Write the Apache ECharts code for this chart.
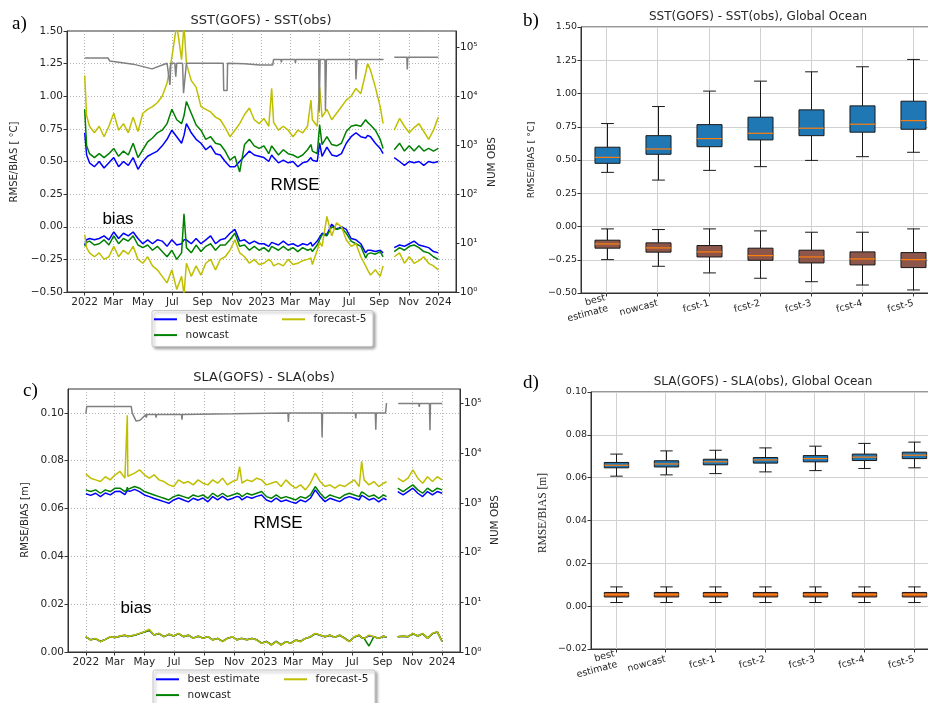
<!DOCTYPE html>
<html>
<head>
<meta charset="utf-8">
<script src="https://cdn.jsdelivr.net/npm/echarts@6/dist/echarts.min.js"></script>
<style>
  html, body { margin: 0; padding: 0; background: #fff; }
  #chart { width: 928px; height: 703px; }
</style>
</head>
<body>
<div id="chart"></div>
<script>
// ---- time axis ticks (days since 2022-01-01)
const tickDays = [0, 59, 120, 181, 243, 304, 365, 424, 485, 546, 608, 669, 730];
const tickLabels = ['2022', 'Mar', 'May', 'Jul', 'Sep', 'Nov', '2023', 'Mar', 'May', 'Jul', 'Sep', 'Nov', '2024'];

// ---- panel a: SST time series
const sstDays = [0,4,10,20,30,40,50,60,70,80, 90,100,110,120,130,140,150,160,170,180,
  190,200,205,210,220,230,240,250,260,270, 280,290,300,310,320,330,340,350,360,370,
  380,386,390,400,410,420,430,440,450,460, 467,470,480,485,490,500,510,520,530,540,
  550,560,570,580,584,590,600,610,616,628, 639,650,660,670,680,690,700,710,720,730];
const sstBestRmse = [0.72,0.55,0.49,0.46,0.50,0.45,0.49,0.53,0.46,0.50, 0.47,0.53,0.44,0.50,0.54,0.56,0.58,0.62,0.67,0.74,
  0.69,0.64,0.70,0.79,0.72,0.67,0.64,0.59,0.62,0.56, 0.55,0.50,0.46,0.46,0.50,0.54,0.58,0.55,0.54,0.53,
  0.50,0.55,0.53,0.49,0.51,0.49,0.50,0.46,0.49,0.50, 0.53,0.51,0.50,0.64,0.54,0.61,0.55,0.54,0.56,0.64,
  0.69,0.72,0.69,0.68,0.70,0.69,0.64,0.60,0.56,null, 0.53,0.50,0.47,0.50,0.49,0.50,0.47,0.50,0.49,0.50];
const sstNowRmse = [0.90,0.62,0.56,0.53,0.56,0.53,0.56,0.60,0.54,0.58, 0.55,0.64,0.53,0.59,0.65,0.68,0.72,0.74,0.79,0.90,
  0.82,0.79,0.85,0.96,0.87,0.78,0.74,0.67,0.69,0.64, 0.63,0.58,0.51,0.54,0.42,0.63,0.67,0.62,0.60,0.62,
  0.56,0.62,0.60,0.55,0.59,0.56,0.55,0.53,0.55,0.59, 0.63,0.58,0.56,0.78,0.63,0.69,0.63,0.62,0.64,0.73,
  0.77,0.78,0.77,0.82,0.80,0.78,0.74,0.67,0.60,null, 0.59,0.64,0.58,0.62,0.58,0.62,0.58,0.60,0.58,0.60];
const sstFc5Rmse = [1.16,0.85,0.77,0.72,0.77,0.69,0.77,0.87,0.74,0.79, 0.72,0.84,0.73,0.87,0.90,0.92,0.95,1.00,1.10,1.30,
  1.55,1.28,1.55,1.25,1.12,1.07,0.92,0.90,0.88,0.84, 0.82,0.76,0.69,0.74,0.79,0.86,0.91,0.82,0.79,0.83,
  0.77,1.06,0.80,0.74,0.77,0.74,0.69,0.74,0.72,0.77, 0.97,0.82,0.77,1.07,0.84,0.90,0.82,0.87,0.92,0.97,
  1.00,1.06,1.02,1.18,1.25,1.20,1.07,0.92,0.79,null, 0.74,0.83,0.77,0.72,0.76,0.79,0.73,0.67,0.74,0.84];
const sstBestBias = [-0.14,-0.10,-0.09,-0.10,-0.09,-0.07,-0.10,-0.04,-0.09,-0.05, -0.07,-0.04,-0.09,-0.13,-0.10,-0.13,-0.10,-0.11,-0.15,-0.10,
  -0.14,-0.13,-0.10,-0.10,-0.13,-0.09,-0.13,-0.10,-0.07,-0.13, -0.10,-0.09,-0.05,-0.02,-0.11,-0.10,-0.13,-0.11,-0.13,-0.13,
  -0.15,-0.12,-0.13,-0.14,-0.11,-0.14,-0.13,-0.15,-0.13,-0.14, -0.12,-0.15,-0.11,-0.08,-0.05,-0.06,0.02,-0.02,0.00,-0.02,
  -0.09,-0.10,-0.13,-0.20,-0.18,-0.18,-0.19,-0.18,-0.20,null, -0.16,-0.14,-0.15,-0.13,-0.11,-0.14,-0.15,-0.16,-0.19,-0.20];
const sstNowBias = [-0.15,-0.12,-0.11,-0.14,-0.13,-0.10,-0.14,-0.07,-0.13,-0.09, -0.11,-0.07,-0.14,-0.16,-0.14,-0.18,-0.15,-0.19,-0.23,-0.18,
  -0.25,-0.20,0.10,-0.16,-0.20,-0.14,-0.19,-0.15,-0.13,-0.18, -0.14,-0.14,-0.10,-0.05,-0.15,-0.14,-0.18,-0.15,-0.18,-0.16,
  -0.19,-0.15,-0.16,-0.18,-0.15,-0.18,-0.16,-0.19,-0.16,-0.18, -0.17,-0.19,-0.14,-0.10,-0.06,-0.07,0.00,-0.02,-0.01,-0.05,
  -0.11,-0.13,-0.15,-0.24,-0.21,-0.20,-0.21,-0.19,-0.23,null, -0.19,-0.16,-0.18,-0.15,-0.14,-0.16,-0.19,-0.20,-0.23,-0.25];
const sstFc5Bias = [-0.06,-0.16,-0.20,-0.23,-0.20,-0.25,-0.23,-0.15,-0.23,-0.18, -0.21,-0.15,-0.25,-0.28,-0.23,-0.30,-0.33,-0.38,-0.43,-0.33,
  -0.48,-0.38,-0.52,-0.28,-0.38,-0.30,-0.37,-0.28,-0.25,-0.33, -0.25,-0.23,-0.18,-0.10,-0.20,-0.23,-0.28,-0.25,-0.29,-0.28,
  -0.25,-0.27,-0.30,-0.28,-0.30,-0.25,-0.29,-0.28,-0.26,-0.25, -0.24,-0.29,-0.18,-0.12,-0.15,0.08,-0.07,0.03,0.00,-0.10,
  -0.15,-0.13,-0.23,-0.30,-0.33,-0.37,-0.33,-0.38,-0.30,null, -0.23,-0.20,-0.28,-0.23,-0.28,-0.26,-0.23,-0.28,-0.30,-0.33];
const sstObsDays = [0,48,52,100,139,170,174,176,178,180, 186,188,190,192,202,204,208,210,250,286,
  287,294,295,330,362,388,390,405,406,407, 434,435,436,483,484,486,496,497,499,520,
  559,560,562,600,617,628,639,665,666,667, 700,730];
const sstObsVals = [60000,60000,52000,45000,36000,47000,47000,17000,47000,47000,
  47000,25000,47000,47000,47000,11500,11500,47000,47000,47000,
  13000,13000,47000,46000,43000,43000,56000,56000,49000,56000,
  56000,48000,56000,56000,4800,56000,56000,5100,56000,56000,
  56000,22000,56000,56000,56000,null,62000,62000,35000,62000, 62000,62000];

// ---- panel c: SLA time series
const slaDays = [0,10,20,30,40,50,60,70,80,84, 85,86,90,100,110,120,130,140,150,160,
  170,180,190,200,210,220,230,240,250,260, 270,280,290,300,310,315,320,330,340,350,
  360,370,380,390,400,410,420,430,440,450, 460,470,480,490,500,510,520,530,540,550,
  560,565,570,580,590,600,610,616,628,639, 650,660,670,680,690,700,710,720,730];
const slaBestRmse = [0.0662,0.0655,0.0664,0.0650,0.0665,0.0657,0.0671,0.0672,0.0658,0.0666,
  0.0675,0.0667,0.0672,0.0680,0.0671,0.0657,0.0650,0.0642,0.0636,0.0629,
  0.0622,0.0636,0.0644,0.0636,0.0628,0.0643,0.0635,0.0644,0.0628,0.0650,
  0.0636,0.0651,0.0636,0.0642,0.0651,0.0647,0.0636,0.0650,0.0643,0.0651,
  0.0657,0.0636,0.0628,0.0644,0.0629,0.0636,0.0628,0.0622,0.0636,0.0628,
  0.0643,0.0678,0.0650,0.0629,0.0643,0.0636,0.0629,0.0643,0.0650,0.0643,
  0.0636,0.0655,0.0650,0.0636,0.0643,0.0628,0.0643,0.0636,null,0.0671,
  0.0657,0.0671,0.0685,0.0664,0.0650,0.0671,0.0657,0.0671,0.0664];
const slaNowRmse = [0.0678,0.0671,0.0678,0.0664,0.0678,0.0671,0.0685,0.0685,0.0671,0.0680,
  0.0690,0.0680,0.0685,0.0692,0.0685,0.0671,0.0664,0.0657,0.0650,0.0643,
  0.0636,0.0650,0.0657,0.0650,0.0643,0.0657,0.0650,0.0657,0.0643,0.0664,
  0.0650,0.0664,0.0650,0.0657,0.0664,0.0660,0.0650,0.0664,0.0657,0.0664,
  0.0671,0.0650,0.0643,0.0657,0.0643,0.0650,0.0643,0.0636,0.0650,0.0643,
  0.0657,0.0692,0.0664,0.0643,0.0657,0.0650,0.0643,0.0657,0.0664,0.0657,
  0.0650,0.0670,0.0664,0.0650,0.0657,0.0643,0.0657,0.0650,null,0.0685,
  0.0671,0.0685,0.0699,0.0678,0.0664,0.0685,0.0671,0.0685,0.0678];
const slaFc5Rmse = [0.0745,0.0727,0.0720,0.0713,0.0733,0.0720,0.0741,0.0755,0.0727,0.0730,
  0.0990,0.0735,0.0733,0.0748,0.0762,0.0741,0.0727,0.0741,0.0720,0.0713,
  0.0699,0.0692,0.0720,0.0706,0.0713,0.0699,0.0720,0.0706,0.0699,0.0720,
  0.0706,0.0727,0.0699,0.0713,0.0720,0.0775,0.0706,0.0720,0.0713,0.0727,
  0.0720,0.0699,0.0706,0.0713,0.0692,0.0720,0.0699,0.0685,0.0699,0.0678,
  0.0706,0.0748,0.0713,0.0692,0.0699,0.0685,0.0699,0.0692,0.0706,0.0720,
  0.0692,0.0797,0.0720,0.0699,0.0713,0.0692,0.0706,0.0712,null,0.0727,
  0.0713,0.0727,0.0762,0.0727,0.0706,0.0733,0.0713,0.0733,0.0720];
const slaBestBias = [0.0063,0.0051,0.0056,0.0044,0.0053,0.0063,0.0061,0.0066,0.0070,0.0066,
  0.0067,0.0065,0.0064,0.0070,0.0077,0.0084,0.0091,0.0071,0.0077,0.0064,
  0.0074,0.0067,0.0077,0.0064,0.0070,0.0058,0.0066,0.0058,0.0064,0.0051,
  0.0057,0.0044,0.0057,0.0063,0.0051,0.0055,0.0057,0.0051,0.0057,0.0051,
  0.0037,0.0044,0.0030,0.0044,0.0030,0.0043,0.0037,0.0050,0.0044,0.0057,
  0.0063,0.0077,0.0070,0.0064,0.0070,0.0061,0.0070,0.0058,0.0044,0.0063,
  0.0070,0.0060,0.0057,0.0068,0.0064,0.0057,0.0066,0.0062,null,0.0064,
  0.0066,0.0064,0.0077,0.0067,0.0077,0.0058,0.0077,0.0084,0.0044];
const slaNowBias = [0.0063,0.0051,0.0056,0.0044,0.0053,0.0063,0.0061,0.0066,0.0070,0.0066,
  0.0067,0.0065,0.0064,0.0070,0.0077,0.0084,0.0091,0.0071,0.0077,0.0064,
  0.0074,0.0067,0.0077,0.0064,0.0070,0.0058,0.0066,0.0058,0.0064,0.0051,
  0.0057,0.0044,0.0057,0.0063,0.0051,0.0055,0.0057,0.0051,0.0057,0.0051,
  0.0037,0.0044,0.0030,0.0044,0.0030,0.0043,0.0037,0.0050,0.0044,0.0057,
  0.0063,0.0077,0.0070,0.0064,0.0070,0.0061,0.0070,0.0058,0.0044,0.0063,
  0.0070,0.0060,0.0057,0.0025,0.0064,0.0057,0.0066,0.0062,null,0.0064,
  0.0066,0.0064,0.0077,0.0067,0.0077,0.0058,0.0077,0.0084,0.0044];
const slaFc5Bias = [0.0064,0.0050,0.0057,0.0043,0.0053,0.0064,0.0061,0.0067,0.0071,0.0066,
  0.0068,0.0065,0.0064,0.0071,0.0078,0.0085,0.0095,0.0071,0.0078,0.0064,
  0.0075,0.0067,0.0078,0.0064,0.0071,0.0057,0.0067,0.0057,0.0064,0.0050,
  0.0057,0.0043,0.0057,0.0064,0.0050,0.0055,0.0057,0.0050,0.0057,0.0050,
  0.0036,0.0043,0.0029,0.0043,0.0029,0.0043,0.0036,0.0050,0.0043,0.0057,
  0.0064,0.0078,0.0071,0.0064,0.0071,0.0061,0.0071,0.0057,0.0043,0.0064,
  0.0071,0.0060,0.0057,0.0071,0.0064,0.0057,0.0067,0.0062,null,0.0064,
  0.0067,0.0064,0.0078,0.0067,0.0078,0.0057,0.0078,0.0085,0.0043];
const slaObsDays = [0,2,75,76,77,93,95,103,107,111, 123,124,125,143,144,145,196,197,198,300,
  414,415,416,438,483,484,485,552,553,554, 593,594,595,614,616,628,640,682,683,684, 704,705,706,730];
const slaObsVals = [62000,87000,87000,80000,87000,87000,64500,44000,42000,46000,
  60000,52000,60000,60000,52000,60000,60000,47000,60000,62000,
  64500,42500,64500,64500,64500,21000,64500,64500,50000,64500,
  64500,29500,64500,64500,102000,null,100000,100000,85000,100000,
  100000,29000,100000,100000];

// ---- panels b, d: box statistics [low whisker, q1, median, q3, high whisker]
const boxCats = ['best\nestimate', 'nowcast', 'fcst-1', 'fcst-2', 'fcst-3', 'fcst-4', 'fcst-5'];
const sstRmseBox = [
  [0.407, 0.475, 0.520, 0.596, 0.774],
  [0.349, 0.543, 0.583, 0.683, 0.902],
  [0.422, 0.600, 0.661, 0.766, 1.018],
  [0.450, 0.651, 0.701, 0.822, 1.093],
  [0.497, 0.683, 0.739, 0.877, 1.163],
  [0.525, 0.709, 0.769, 0.907, 1.201],
  [0.558, 0.731, 0.796, 0.942, 1.256]];
const sstBiasBox = [
  [-0.249, -0.163, -0.131, -0.103, -0.018],
  [-0.299, -0.193, -0.161, -0.123, -0.023],
  [-0.349, -0.229, -0.191, -0.143, -0.018],
  [-0.389, -0.254, -0.219, -0.163, -0.033],
  [-0.415, -0.274, -0.229, -0.178, -0.043],
  [-0.440, -0.289, -0.244, -0.191, -0.043],
  [-0.477, -0.309, -0.249, -0.196, -0.018]];
const slaRmseBox = [
  [0.0607, 0.0646, 0.0658, 0.0671, 0.0710],
  [0.0613, 0.0650, 0.0664, 0.0679, 0.0725],
  [0.0619, 0.0660, 0.0674, 0.0686, 0.0728],
  [0.0627, 0.0668, 0.0683, 0.0694, 0.0739],
  [0.0633, 0.0674, 0.0689, 0.0703, 0.0747],
  [0.0643, 0.0680, 0.0696, 0.0710, 0.0760],
  [0.0646, 0.0689, 0.0705, 0.0719, 0.0766]];
const slaBiasBox = [
  [0.0017, 0.0043, 0.0054, 0.0064, 0.0090],
  [0.0017, 0.0043, 0.0054, 0.0064, 0.0090],
  [0.0017, 0.0043, 0.0054, 0.0064, 0.0090],
  [0.0017, 0.0043, 0.0054, 0.0064, 0.0090],
  [0.0017, 0.0043, 0.0054, 0.0064, 0.0090],
  [0.0017, 0.0043, 0.0054, 0.0064, 0.0090],
  [0.0017, 0.0043, 0.0054, 0.0064, 0.0090]];
const slaTicks = [0, 0.02, 0.04, 0.06, 0.08, 0.10];

const FONT = 'DejaVu Sans';
const INK = '#262626';
const SPINE = '#333333';
const SUP = ['\u2070', '\u00b9', '\u00b2', '\u00b3', '\u2074', '\u2075'];

function fmt2(v) {
  if (Math.abs(v) < 1e-9) v = 0;
  return v.toFixed(2).replace('-', '\u2212');
}
function zip(xs, ys) { return xs.map((x, i) => [x, ys[i]]); }

function timeAxis(gridIndex) {
  return {
    type: 'value', gridIndex: gridIndex, min: -36.5, max: 766.5,
    axisLine: { show: true, onZero: false, lineStyle: { color: SPINE, width: 1 } },
    axisTick: { show: true, length: 3.5, customValues: tickDays, lineStyle: { color: SPINE } },
    axisLabel: {
      customValues: tickDays, margin: 5, color: INK, fontFamily: FONT, fontSize: 10.5,
      formatter: function (v) { const k = tickDays.indexOf(Math.round(v)); return k < 0 ? '' : tickLabels[k]; }
    },
    splitLine: { show: true, lineStyle: { color: '#a0a0a0', width: 0.8, type: [1, 2] } }
  };
}
function catAxis(gridIndex) {
  return {
    type: 'category', gridIndex: gridIndex, data: boxCats,
    axisLine: { show: true, onZero: false, lineStyle: { color: SPINE } },
    axisTick: { show: true, alignWithLabel: true, length: 3.5, lineStyle: { color: SPINE } },
    axisLabel: { interval: 0, rotate: 15, margin: 10, color: INK, fontFamily: FONT, fontSize: 9.5, lineHeight: 11 },
    splitLine: { show: true, alignWithLabel: true, interval: 0, lineStyle: { color: '#d0d0d0', width: 1 } }
  };
}
function leftAxis(gridIndex, min, max, interval, size, dotted, labels) {
  const ax = {
    type: 'value', gridIndex: gridIndex, min: min, max: max, interval: interval,
    axisLine: { show: true, onZero: false, lineStyle: { color: SPINE } },
    axisTick: { show: true, length: 3.5, lineStyle: { color: SPINE } },
    axisLabel: { margin: 4, color: INK, fontFamily: FONT, fontSize: size, formatter: fmt2 },
    splitLine: { show: true, lineStyle: dotted ? { color: '#a0a0a0', width: 0.8, type: [1, 2] } : { color: '#d0d0d0', width: 1 } }
  };
  if (labels) {
    ax.axisTick.customValues = labels;
    ax.axisLabel.customValues = labels;
  }
  return ax;
}
function logAxis(gridIndex, maxExp) {
  return {
    type: 'log', logBase: 10, gridIndex: gridIndex, position: 'right',
    min: 1, max: Math.pow(10, maxExp), interval: 1,
    axisLine: { show: true, onZero: false, lineStyle: { color: SPINE } },
    axisTick: { show: true, length: 3.5, lineStyle: { color: SPINE } },
    axisLabel: {
      margin: 4, color: INK, fontFamily: FONT, fontSize: 10.5, showMaxLabel: false,
      formatter: function (v) { const e = Math.round(Math.log10(v)); return e >= 0 && e <= 5 ? '10' + SUP[e] : ''; }
    },
    splitLine: { show: false }
  };
}
function line(name, color, x, y, xi, yi) {
  return {
    name: name, type: 'line', xAxisIndex: xi, yAxisIndex: yi, data: zip(x, y),
    showSymbol: false, symbol: 'none', connectNulls: false, clip: true,
    lineStyle: { color: color, width: 1.5 }, itemStyle: { color: color }
  };
}
function renderBox(fill) {
  return function (params, api) {
    const i = api.value(0);
    const band = api.size([1, 0])[0];
    const half = band * 0.245, cap = band * 0.125;
    const lo = api.coord([i, api.value(1)]);
    const q1 = api.coord([i, api.value(2)]);
    const md = api.coord([i, api.value(3)]);
    const q3 = api.coord([i, api.value(4)]);
    const hi = api.coord([i, api.value(5)]);
    const x = Math.round(lo[0]) + 0.5;
    const st = { stroke: '#1a1a1a', lineWidth: 1 };
    return {
      type: 'group', children: [
        { type: 'line', shape: { x1: x, y1: q1[1], x2: x, y2: lo[1] }, style: st },
        { type: 'line', shape: { x1: x, y1: q3[1], x2: x, y2: hi[1] }, style: st },
        { type: 'line', shape: { x1: x - cap, y1: lo[1], x2: x + cap, y2: lo[1] }, style: st },
        { type: 'line', shape: { x1: x - cap, y1: hi[1], x2: x + cap, y2: hi[1] }, style: st },
        { type: 'rect', shape: { x: x - half, y: q3[1], width: half * 2, height: q1[1] - q3[1] },
          style: { fill: fill, stroke: '#1a1a1a', lineWidth: 1 } },
        { type: 'line', shape: { x1: x - half, y1: md[1], x2: x + half, y2: md[1] },
          style: { stroke: '#ff7f0e', lineWidth: 1.2 } }
      ]
    };
  };
}
function boxSeries(stats, fill, xi, yi) {
  return {
    type: 'custom', xAxisIndex: xi, yAxisIndex: yi,
    data: stats.map((s, i) => [i].concat(s)),
    encode: { x: 0, y: [1, 2, 3, 4, 5] },
    renderItem: renderBox(fill), silent: true
  };
}
function txt(t, x, y, size, opts) {
  opts = opts || {};
  return {
    type: 'text', x: x, y: y, rotation: opts.rot || 0, z: 10,
    style: {
      text: t, fill: opts.color || INK, fontSize: size, fontFamily: opts.family || FONT,
      fontWeight: opts.weight || 'normal', align: opts.align || 'center', verticalAlign: 'middle'
    }
  };
}
function legendBox(x, y, w, h) {
  return {
    type: 'rect', z: 1, shape: { x: x, y: y, width: w, height: h, r: 2 },
    style: { fill: '#fff', stroke: '#c8c8c8', lineWidth: 1, shadowBlur: 3, shadowOffsetX: 2, shadowOffsetY: 2, shadowColor: 'rgba(0,0,0,0.35)' }
  };
}
function legend(names, left, top) {
  return {
    data: names, left: left, top: top, orient: 'vertical', padding: 0, itemGap: 4.8,
    icon: 'rect', itemWidth: 23, itemHeight: 2, selectedMode: false, z: 5,
    textStyle: { color: INK, fontFamily: FONT, fontSize: 10.5, padding: [0, 0, 0, 3.5] }
  };
}

const BLUE = '#0000ff', GREEN = '#008000', YEL = '#bfbf00', GRAY = '#808080';

const chart = echarts.init(document.getElementById('chart'), null, { renderer: 'canvas' });
const option = {
  animation: false,
  backgroundColor: '#fff',
  grid: [
    { left: 67, top: 31, width: 389, height: 261, show: true, borderColor: SPINE, borderWidth: 1, backgroundColor: 'transparent', outerBoundsMode: 'none' },
    { left: 581, top: 27, width: 358, height: 266, show: true, borderColor: SPINE, borderWidth: 1, backgroundColor: 'transparent', outerBoundsMode: 'none' },
    { left: 68, top: 389, width: 392, height: 263, show: true, borderColor: SPINE, borderWidth: 1, backgroundColor: 'transparent', outerBoundsMode: 'none' },
    { left: 591, top: 392, width: 348, height: 257, show: true, borderColor: SPINE, borderWidth: 1, backgroundColor: 'transparent', outerBoundsMode: 'none' }
  ],
  xAxis: [timeAxis(0), catAxis(1), timeAxis(2), catAxis(3)],
  yAxis: [
    leftAxis(0, -0.5, 1.5, 0.25, 10.5, true),
    logAxis(0, 5.33),
    leftAxis(1, -0.5, 1.5, 0.25, 9.5, false),
    leftAxis(2, 0, 0.11, 0.02, 10.5, true, slaTicks),
    logAxis(2, 5.29),
    leftAxis(3, -0.02, 0.10, 0.02, 9.5, false)
  ],
  legend: [
    legend(['best estimate', 'nowcast'], 154, 313.8),
    legend(['forecast-5'], 282, 313.8),
    legend(['best estimate', 'nowcast'], 156, 673.8),
    legend(['forecast-5'], 284, 673.8)
  ],
  series: [
    line('best estimate', BLUE, sstDays, sstBestRmse, 0, 0),
    line('nowcast', GREEN, sstDays, sstNowRmse, 0, 0),
    line('forecast-5', YEL, sstDays, sstFc5Rmse, 0, 0),
    line('best estimate', BLUE, sstDays, sstBestBias, 0, 0),
    line('nowcast', GREEN, sstDays, sstNowBias, 0, 0),
    line('forecast-5', YEL, sstDays, sstFc5Bias, 0, 0),
    line('NUM OBS a', GRAY, sstObsDays, sstObsVals, 0, 1),
    line('best estimate', BLUE, slaDays, slaBestRmse, 2, 3),
    line('nowcast', GREEN, slaDays, slaNowRmse, 2, 3),
    line('forecast-5', YEL, slaDays, slaFc5Rmse, 2, 3),
    line('best estimate', BLUE, slaDays, slaBestBias, 2, 3),
    line('nowcast', GREEN, slaDays, slaNowBias, 2, 3),
    line('forecast-5', YEL, slaDays, slaFc5Bias, 2, 3),
    line('NUM OBS c', GRAY, slaObsDays, slaObsVals, 2, 4),
    boxSeries(sstRmseBox, '#1f77b4', 1, 2),
    boxSeries(sstBiasBox, '#8c564b', 1, 2),
    boxSeries(slaRmseBox, '#1f77b4', 3, 5),
    boxSeries(slaBiasBox, '#c25a22', 3, 5)
  ],
  graphic: [
    legendBox(152, 310.5, 221, 36),
    legendBox(153, 670, 222, 40),
    txt('SST(GOFS) - SST(obs)', 261, 21, 13),
    txt('SST(GOFS) - SST(obs), Global Ocean', 758, 17, 12),
    txt('SLA(GOFS) - SLA(obs)', 264, 378, 13),
    txt('SLA(GOFS) - SLA(obs), Global Ocean', 763, 382, 12),
    txt('a)', 12, 24, 19, { family: 'Liberation Serif', align: 'left', color: '#000' }),
    txt('b)', 523, 21.5, 19, { family: 'Liberation Serif', align: 'left', color: '#000' }),
    txt('c)', 23, 391.5, 19, { family: 'Liberation Serif', align: 'left', color: '#000' }),
    txt('d)', 523, 383.5, 19, { family: 'Liberation Serif', align: 'left', color: '#000' }),
    txt('RMSE', 295, 185, 17, { family: 'Liberation Sans', color: '#000' }),
    txt('bias', 118, 219, 17, { family: 'Liberation Sans', color: '#000' }),
    txt('RMSE', 278, 523, 17, { family: 'Liberation Sans', color: '#000' }),
    txt('bias', 136, 608, 17, { family: 'Liberation Sans', color: '#000' }),
    txt('RMSE/BIAS [ \u00b0C]', 14, 162, 10, { rot: Math.PI / 2 }),
    txt('NUM OBS', 492, 162, 10.5, { rot: Math.PI / 2 }),
    txt('RMSE/BIAS [ \u00b0C]', 532, 160, 9.5, { rot: Math.PI / 2 }),
    txt('RMSE/BIAS [m]', 25, 520, 10, { rot: Math.PI / 2 }),
    txt('NUM OBS', 495, 520, 10.5, { rot: Math.PI / 2 }),
    txt('RMSE/BIAS [m]', 543, 513, 11.5, { rot: Math.PI / 2, family: 'Liberation Serif' })
  ]
};
chart.setOption(option);
window.onresize = function () { chart.resize(); };
</script>
</body>
</html>
